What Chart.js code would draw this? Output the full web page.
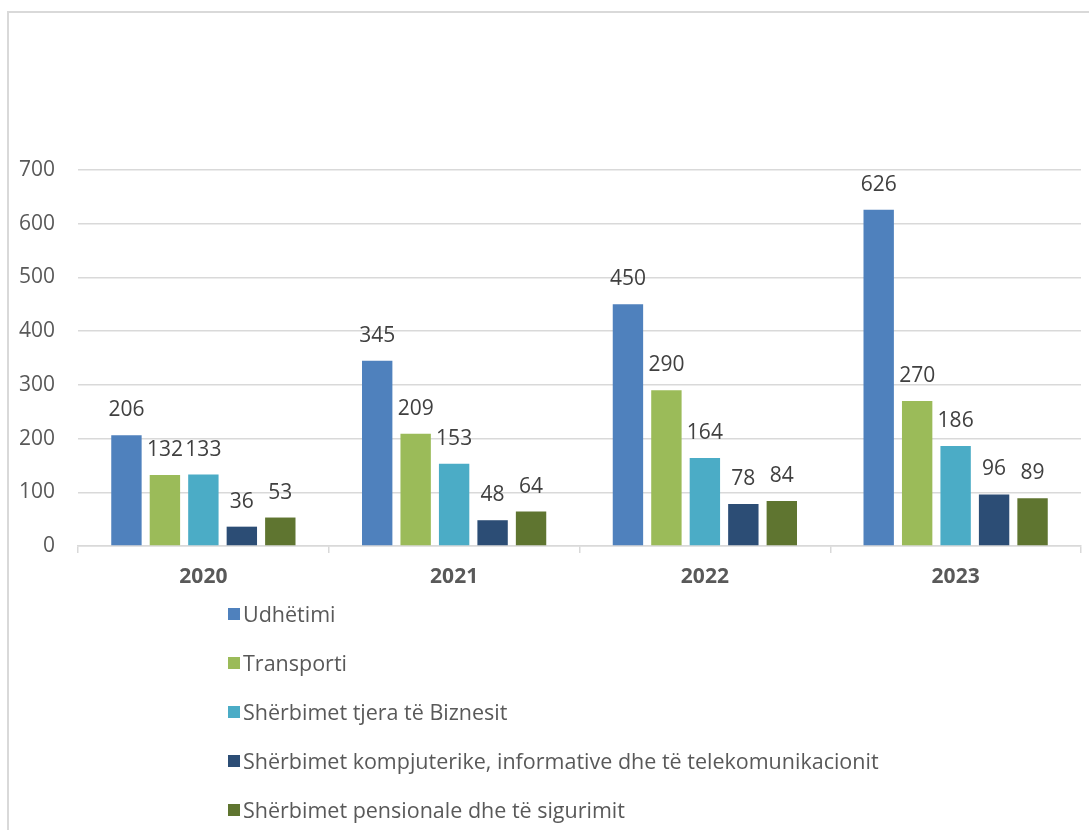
<!DOCTYPE html>
<html>
<head>
<meta charset="utf-8">
<script src="https://cdn.jsdelivr.net/npm/chart.js@4/dist/chart.umd.min.js"></script>
<style>
  html, body { margin: 0; padding: 0; background: #fff; }
  #frame {
    position: absolute; left: 7px; top: 11px; width: 1100px; height: 840px;
    border-top: 2px solid #d9d9d9; border-left: 2px solid #d9d9d9;
  }
  #wrap { position: absolute; left: 0; top: 0; width: 1089px; height: 600px; }
  #legend {
    position: absolute; left: 228px; top: 589px;
    font-family: "Open Sans", sans-serif; font-size: 21.5px; color: #595959;
  }
  .item { height: 49px; display: flex; align-items: center; }
  .item .box { width: 12px; height: 12px; margin-right: 3px; }
</style>
</head>
<body>
<div id="frame"></div>
<div id="wrap"><canvas id="chart"></canvas></div>
<div id="legend"></div>
<script>
// Categories & series
const years = ['2020', '2021', '2022', '2023'];
const udhetimi = [206, 345, 450, 626];
const transporti = [132, 209, 290, 270];
const biznesit = [133, 153, 164, 186];
const kompjuterike = [36, 48, 78, 96];
const pensionale = [53, 64, 84, 89];
const seriesNames = [
  'Udhëtimi',
  'Transporti',
  'Shërbimet tjera të Biznesit',
  'Shërbimet kompjuterike, informative dhe të telekomunikacionit',
  'Shërbimet pensionale dhe të sigurimit'
];
const colors = ['#4F81BD', '#9BBB59', '#4BACC6', '#2C4D75', '#5F7530'];
const seriesData = [udhetimi, transporti, biznesit, kompjuterike, pensionale];

const FONT = '"Open Sans", sans-serif';

// Draws the value above each bar
const valueLabels = {
  id: 'valueLabels',
  afterDatasetsDraw(chart) {
    const ctx = chart.ctx;
    ctx.save();
    ctx.font = '21px ' + FONT;
    ctx.fillStyle = '#404040';
    ctx.textAlign = 'center';
    ctx.textBaseline = 'middle';
    chart.data.datasets.forEach((ds, i) => {
      chart.getDatasetMeta(i).data.forEach((bar, j) => {
        ctx.fillText(ds.data[j], bar.x, bar.y - 25);
      });
    });
    ctx.restore();
  }
};

const ctx = document.getElementById('chart').getContext('2d');
const chart = new Chart(ctx, {
  type: 'bar',
  data: {
    labels: years,
    datasets: seriesNames.map((name, i) => ({
      label: name,
      data: seriesData[i],
      backgroundColor: colors[i],
      categoryPercentage: 0.767,
      barPercentage: 0.79
    }))
  },
  options: {
    responsive: true,
    maintainAspectRatio: false,
    animation: false,
    layout: { padding: { left: 10, right: 8, top: 170, bottom: 0 } },
    plugins: {
      legend: { display: false },
      tooltip: { enabled: false }
    },
    scales: {
      y: {
        min: 0,
        max: 700,
        ticks: { stepSize: 100, color: '#595959', font: { family: FONT, size: 21 }, padding: 23 },
        grid: { color: '#d9d9d9', lineWidth: 1.5, drawTicks: false },
        border: { display: false },
        afterFit(scale) { scale.width = 68; }
      },
      x: {
        ticks: { color: '#595959', font: { family: FONT, size: 21, weight: 'bold' }, padding: 11 },
        grid: { color: '#d9d9d9', lineWidth: 1.5, drawOnChartArea: false, tickLength: 7, offset: true },
        border: { color: '#d9d9d9', width: 1.5 },
        afterFit(scale) { scale.height = 54; }
      }
    }
  },
  plugins: [valueLabels]
});

// Vertical legend below the chart
const legendEl = document.getElementById('legend');
seriesNames.forEach((name, i) => {
  const row = document.createElement('div');
  row.className = 'item';
  const box = document.createElement('span');
  box.className = 'box';
  box.style.background = colors[i];
  const txt = document.createElement('span');
  txt.textContent = name;
  row.appendChild(box);
  row.appendChild(txt);
  legendEl.appendChild(row);
});
</script>
</body>
</html>
